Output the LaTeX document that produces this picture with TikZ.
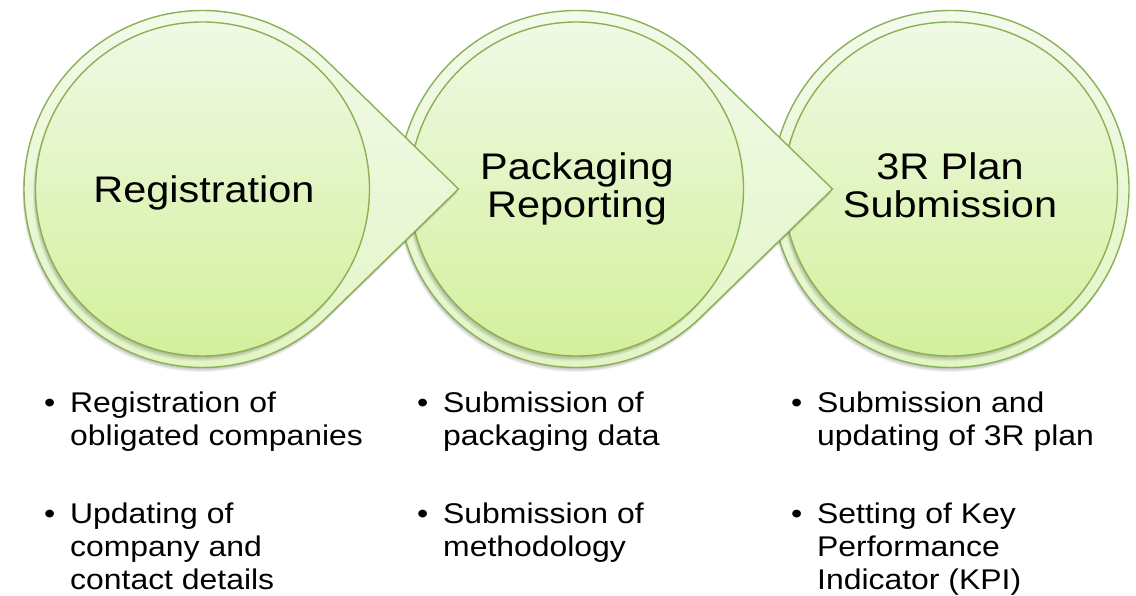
\documentclass[tikz,border=0pt]{standalone}
\usepackage{fontspec}
\setmainfont{Liberation Sans}[FakeStretch=1.12]
\usetikzlibrary{calc}

\definecolor{rim}{HTML}{8AB255}
\definecolor{outertop}{HTML}{F3FAEB}
\definecolor{outerbot}{HTML}{E2F5C4}
\definecolor{innertop}{HTML}{F0F9E5}
\definecolor{innerbot}{HTML}{D3F09C}

\tikzset{
  rimline/.style={draw=rim, line width=1.4pt},
  outerfill/.style={rimline, top color=outertop, bottom color=outerbot},
  innerfill/.style={rimline, top color=innertop, bottom color=innerbot},
  softshade/.style={fill=black, opacity=0.05},
  title/.style={font=\fontsize{37}{38}\selectfont, align=center, inner sep=0pt, anchor=base},
  itemtext/.style={font=\fontsize{28.5}{33}\selectfont, align=left, inner sep=0pt, anchor=base west},
  bullet/.style={font=\fontsize{28.5}{33}\selectfont, inner sep=0pt, anchor=base west},
  % teardrop outline: circle with a pointed tip to the right
  pics/teardrop/.style={code={
    \foreach \k in {1,...,5}
      \fill[softshade, shift={(-0.3*\k,-0.9*\k)}]
        (256,0) -- (45.8:178.5) arc[start angle=45.8, end angle=314.2, radius=178.5] -- cycle;
    \path[outerfill]
      (256,0) -- (45.8:178.5) arc[start angle=45.8, end angle=314.2, radius=178.5] -- cycle;
    \foreach \k in {1,...,5}
      \fill[softshade, shift={(-0.5*\k,-1.0*\k)}] (0,0) circle[radius=167];
    \path[innerfill] (0,0) circle[radius=167];
  }},
  % last stage: plain double circle
  pics/roundstage/.style={code={
    \foreach \k in {1,...,5}
      \fill[softshade, shift={(-0.3*\k,-0.9*\k)}] (0,0) circle[radius=178.5];
    \path[outerfill] (0,0) circle[radius=178.5];
    \foreach \k in {1,...,5}
      \fill[softshade, shift={(-0.5*\k,-1.0*\k)}] (0,0) circle[radius=167];
    \path[innerfill] (0,0) circle[radius=167];
  }}
}

\begin{document}
\begin{tikzpicture}[x=1pt, y=1pt]
  \useasboundingbox (0,0) rectangle (1136,595);
  \fill[white] (0,0) rectangle (1136,595);

  \coordinate (c1) at (202.5,406);
  \coordinate (c2) at (576.5,406);
  \coordinate (c3) at (950.5,406);

  % stages are stacked right to left so each tip lies over the next circle
  \pic at (c3) {roundstage};
  \pic at (c2) {teardrop};
  \pic at (c1) {teardrop};

  % multi-line nodes are anchored at the baseline of their last line
  \node[title] (t1) at (204,392) {Registration};
  \node[title] (t2) at (577,377) {Packaging\\Reporting};
  \node[title] (t3) at (950,377) {3R Plan\\Submission};

  % bullet lists under each stage
  \node[bullet] (b11) at (44,182) {•};
  \node[itemtext] (i11) at (70,149) {Registration of\\obligated companies};
  \node[bullet] (b12) at (44,72) {•};
  \node[itemtext] (i12) at (70,6) {Updating of\\company and\\contact details};

  \node[bullet] (b21) at (417,182) {•};
  \node[itemtext] (i21) at (443,149) {Submission of\\packaging data};
  \node[bullet] (b22) at (417,72) {•};
  \node[itemtext] (i22) at (443,39) {Submission of\\methodology};

  \node[bullet] (b31) at (791,182) {•};
  \node[itemtext] (i31) at (817,149) {Submission and\\updating of 3R plan};
  \node[bullet] (b32) at (791,72) {•};
  \node[itemtext] (i32) at (817,6) {Setting of Key\\Performance\\Indicator (KPI)};
\end{tikzpicture}
\end{document}
